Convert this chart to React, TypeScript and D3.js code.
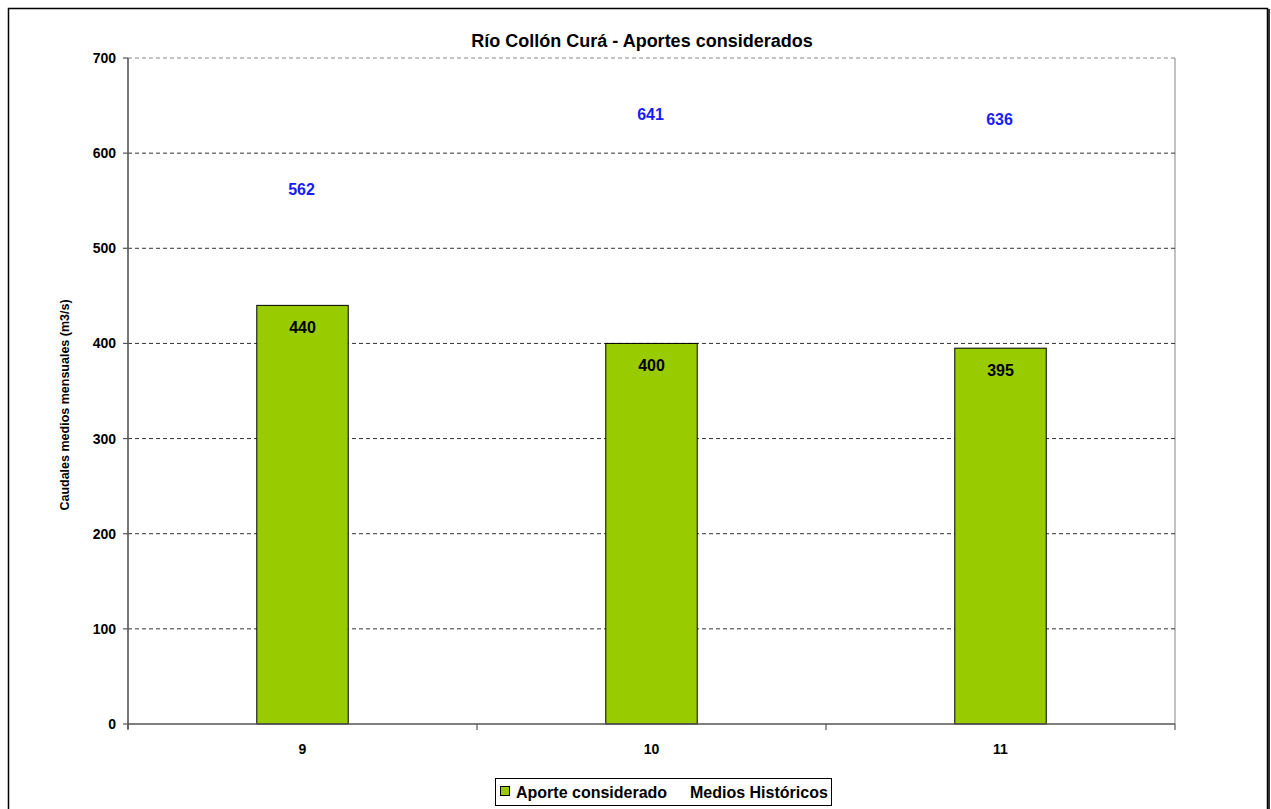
import React from "react";
import * as d3 from "d3";

const categories = ["9", "10", "11"];
const aporte = [440, 400, 395];
const historicos = [562, 641, 636];
const yTicks = [0, 100, 200, 300, 400, 500, 600, 700];
const title = "Río Collón Curá - Aportes considerados";
const yTitle = "Caudales medios mensuales (m3/s)";
const legendLabels = ["Aporte considerado", "Medios Históricos"];

export default function App() {
  const W = 1271, H = 809;
  const left = 128, right = 1175, top = 58, bottom = 724;
  const x = d3.scaleBand<string>().domain(categories).range([left, right]).padding(0);
  const y = d3.scaleLinear().domain([0, 700]).range([bottom, top]);
  const bw = x.bandwidth() * 0.262;
  const font = "'Liberation Sans', Arial, sans-serif";
  const boundaries = [...categories.map((c) => x(c)!), right];
  return (
    <svg width={W} height={H} style={{ position: "absolute", left: 0, top: 0, background: "#fff" }} fontFamily={font}>
      <rect x={8.5} y={8.5} width={1259} height={830} fill="#fff" stroke="#000" strokeWidth={1.5} />
      <line x1={1269} x2={1269} y1={9} y2={H} stroke="#333" strokeWidth={2} />
      <text x={642} y={47} textAnchor="middle" fontSize={18} fontWeight="bold">{title}</text>
      {/* right border of plot area */}
      <line x1={right} x2={right} y1={top} y2={bottom} stroke="#999" strokeWidth={1.2} />
      {yTicks.filter((t) => t > 0).map((t) => (
        <line key={t} x1={left} x2={right} y1={y(t)} y2={y(t)} stroke={t === 700 ? "#888" : "#333"} strokeWidth={1} strokeDasharray="4 3" />
      ))}
      {categories.map((c, i) => (
        <rect key={c} x={x(c)! + x.bandwidth() / 2 - bw / 2} y={y(aporte[i])} width={bw} height={bottom - y(aporte[i])} fill="#99CC00" stroke="#000" strokeWidth={1} />
      ))}
      {categories.map((c, i) => (
        <text key={"a" + c} x={x(c)! + x.bandwidth() / 2} y={y(aporte[i]) + 28} textAnchor="middle" fontSize={16} fontWeight="bold" fill="#000">{aporte[i]}</text>
      ))}
      {categories.map((c, i) => (
        <text key={"h" + c} x={x(c)! + x.bandwidth() / 2 - 1} y={y(historicos[i]) + 6} textAnchor="middle" fontSize={16} fontWeight="bold" fill="#1a1aff">{historicos[i]}</text>
      ))}
      {/* axes */}
      <line x1={left} x2={left} y1={top} y2={bottom + 5} stroke="#555" strokeWidth={1.6} />
      <line x1={left} x2={right} y1={bottom} y2={bottom} stroke="#555" strokeWidth={1.6} />
      {yTicks.map((t) => (
        <g key={t}>
          <line x1={left - 5} x2={left} y1={y(t)} y2={y(t)} stroke="#555" strokeWidth={1.2} />
          <text x={116} y={y(t) + 5} textAnchor="end" fontSize={14} fontWeight="bold">{t}</text>
        </g>
      ))}
      {boundaries.map((b, i) => (
        <line key={i} x1={b} x2={b} y1={bottom} y2={bottom + 6} stroke="#555" strokeWidth={1.2} />
      ))}
      {categories.map((c) => (
        <text key={"c" + c} x={x(c)! + x.bandwidth() / 2} y={754} textAnchor="middle" fontSize={14} fontWeight="bold">{c}</text>
      ))}
      <text transform={`translate(69,${(top + bottom) / 2 + 14}) rotate(-90)`} textAnchor="middle" fontSize={12.5} fontWeight="bold">{yTitle}</text>
      {/* legend */}
      <rect x={495.5} y={778.5} width={336} height={27} fill="#fff" stroke="#000" strokeWidth={1} />
      <rect x={500.5} y={786.5} width={9} height={9} fill="#99CC00" stroke="#000" strokeWidth={1} />
      <text x={516} y={797.5} fontSize={16} fontWeight="bold">{legendLabels[0]}</text>
      <text x={690} y={797.5} fontSize={16} fontWeight="bold">{legendLabels[1]}</text>
    </svg>
  );
}
